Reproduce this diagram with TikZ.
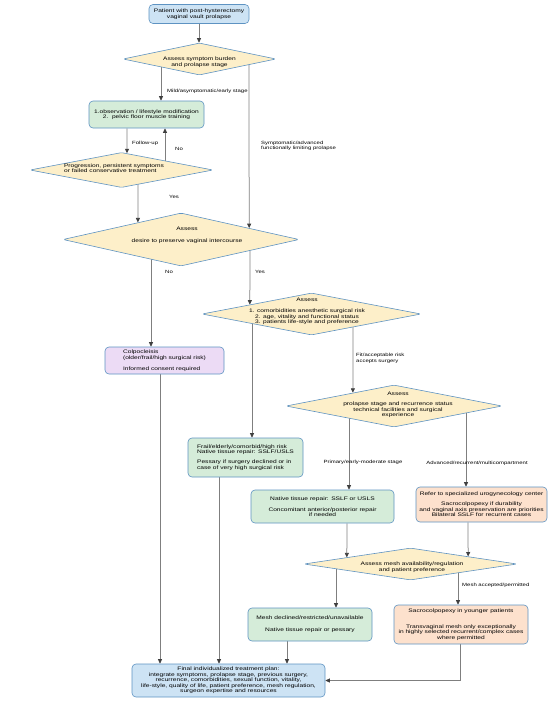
\documentclass[tikz,border=0pt]{standalone}
\usepackage{fontspec}
\setmainfont{Liberation Sans}[FakeStretch=1.3]
\usetikzlibrary{calc,arrows.meta,shapes.geometric,backgrounds}
\definecolor{cblue}{HTML}{CDE3F4}
\definecolor{cyel}{HTML}{FDEFC9}
\definecolor{cgreen}{HTML}{D5ECD9}
\definecolor{cpurp}{HTML}{ECDBF5}
\definecolor{cpeach}{HTML}{FDE1CD}
\definecolor{cedge}{HTML}{5E93C2}
\definecolor{cline}{HTML}{7F7F7F}
\definecolor{ctip}{HTML}{3F3F3F}
\newcommand\nodefont{\fontsize{5.1}{5.5}\selectfont}
\newcommand\lblfont{\fontsize{4.6}{5.4}\selectfont}
\begin{document}
\begin{tikzpicture}[x=1pt,y=-1pt,
  box/.style={draw=cedge, line width=0.6pt, rounded corners=4pt, inner sep=0pt, align=center, font=\nodefont},
  dia/.style={draw=cedge, fill=cyel, line width=0.6pt, diamond, inner sep=0pt, rounded corners=1.5pt},
  txt/.style={inner sep=0pt, align=center, font=\nodefont},
  lbl/.style={inner sep=0pt, align=left, font=\lblfont},
  arr/.style={draw=cline, line width=0.75pt, -{Triangle[width=4pt,length=4.5pt,color=ctip]}},
  ln/.style={draw=cline, line width=0.75pt}]
\useasboundingbox (0,0) rectangle (550,702);

% ---------- nodes ----------
\node[box, fill=cblue, minimum width=100pt, minimum height=19pt] (start) at (199,14)
  {Patient with post-hysterectomy\\vaginal vault prolapse};

\node[dia, minimum width=153pt, minimum height=32pt] (d1) at (199.5,59) {};
\node[txt] (d1t) at (199.5,62) {Assess symptom burden\\and prolapse stage};

\node[box, fill=cgreen, minimum width=115pt, minimum height=27pt] (g1) at (146.5,114.5)
  {1.observation / lifestyle modification\\2.\ \ pelvic floor muscle training};

\node[dia, minimum width=183pt, minimum height=35pt] (d2) at (121.5,170) {};
\node[txt, align=left] (d2t) at (114,168) {Progression, persistent symptoms\\or failed conservative treatment};

\node[dia, minimum width=236pt, minimum height=53pt] (d3) at (181,239.5) {};
\node[txt] (d3t) at (187,235) {Assess\\[6.5pt]desire to preserve vaginal intercourse};

\node[dia, minimum width=219pt, minimum height=42pt] (d4) at (311.5,314) {};
\node[txt] (d4t) at (307,311.5) {Assess\\[5.5pt]1. comorbidities anesthetic surgical risk\\2. age, vitality and functional status\\3. patients life-style and preference};

\node[box, fill=cpurp, minimum width=119pt, minimum height=27pt, align=left] (colp) at (164.5,360.5)
  {Colpocleisis\\(older/frail/high surgical risk)\\[5.5pt]Informed consent required};

\node[dia, minimum width=216pt, minimum height=42pt] (d5) at (394,406) {};
\node[txt] (d5t) at (398,405) {Assess\\[4.5pt]prolapse stage and recurrence status\\technical facilities and surgical\\experience};

\node[box, fill=cgreen, minimum width=115pt, minimum height=39pt, align=left] (frail) at (245.5,457.5)
  {Frail/elderly/comorbid/high risk\\Native tissue repair: SSLF/USLS\\[4.5pt]Pessary if surgery declined or in\\case of very high surgical risk};

\node[box, fill=cgreen, minimum width=143pt, minimum height=33pt] (native) at (322.5,506.5)
  {Native tissue repair: SSLF or USLS\\[5.5pt]Concomitant anterior/posterior repair\\if needed};

\node[box, fill=cpeach, minimum width=131pt, minimum height=35pt] (refer) at (481.5,504.5)
  {Refer to specialized urogynecology center\\[4.5pt]Sacrocolpopexy if durability\\and vaginal axis preservation are priorities\\Bilateral SSLF for recurrent cases};

\node[dia, minimum width=213pt, minimum height=32pt] (d6) at (410.5,564) {};
\node[txt] (d6t) at (412,567) {Assess mesh availability/regulation\\and patient preference};

\node[box, fill=cgreen, minimum width=124pt, minimum height=33pt] (meshd) at (310,624.5)
  {Mesh declined/restricted/unavailable\\[6.5pt]Native tissue repair or pessary};

\node[box, fill=cpeach, minimum width=134pt, minimum height=39pt] (sacro) at (461,624.5)
  {Sacrocolpopexy in younger patients\\[10pt]Transvaginal mesh only exceptionally\\in highly selected recurrent/complex cases\\where permitted};

\node[box, fill=cblue, minimum width=193pt, minimum height=33pt] (final) at (228.5,680.5)
  {Final individualized treatment plan:\\integrate symptoms, prolapse stage, previous surgery,\\recurrence, comorbidities, sexual function, vitality,\\life-style, quality of life, patient preference, mesh regulation,\\surgeon expertise and resources};

% ---------- labels ----------
\node[lbl, anchor=west] (l1) at (167,91.5) {Mild/asymptomatic/early stage};
\node[lbl, anchor=west] (l2) at (261,146) {Symptomatic/advanced\\functionally limiting prolapse};
\node[lbl, anchor=west] (l3) at (132,143) {Follow-up};
\node[lbl, anchor=west] (l4) at (175,148.5) {No};
\node[lbl, anchor=west] (l5) at (169,197) {Yes};
\node[lbl, anchor=west] (l6) at (165,272) {No};
\node[lbl, anchor=west] (l7) at (255,272) {Yes};
\node[lbl, anchor=west] (l8) at (356,358.5) {Fit/acceptable risk\\accepts surgery};
\node[lbl] (l9) at (363,462) {Primary/early-moderate stage};
\node[lbl] (l10) at (477,463) {Advanced/recurrent/multicompartment};
\node[lbl, anchor=west] (l11) at (462,585) {Mesh accepted/permitted};

% ---------- x positions ----------
\coordinate (X161) at (161,0);
\coordinate (X249) at (249,0);
\coordinate (X127) at (127,0);
\coordinate (X165) at (165,0);
\coordinate (X138) at (138,0);
\coordinate (X151) at (151,0);
\coordinate (X250) at (250,0);
\coordinate (X252) at (252,0);
\coordinate (X353) at (353,0);
\coordinate (X160) at (160,0);
\coordinate (X219) at (219,0);
\coordinate (X349) at (349,0);
\coordinate (X466) at (466,0);
\coordinate (X347) at (347,0);
\coordinate (X468) at (468,0);
\coordinate (X336) at (336,0);
\coordinate (X458) at (458,0);
\coordinate (X287) at (287,0);
\coordinate (X460) at (460,0);

% ---------- connectors ----------
\begin{scope}[on background layer]
\draw[arr] (start.south) -- (start.south |- d1.north);
\draw[arr] (X161 |- d1.center) -- (X161 |- g1.north);
\draw[arr] (X249 |- d1.center) -- ($(d3.north)!0.5763!(d3.east)$);
\draw[arr] (X127 |- g1.south) -- ($(d2.north)!0.0601!(d2.east)$);
\draw[arr] (X165 |- d2.center) -- (X165 |- g1.south);
\draw[arr] (X138 |- d2.center) -- ($(d3.north)!0.3644!(d3.west)$);
\draw[arr] (X151 |- d3.center) -- (X151 |- colp.north);
\draw[arr] (X250 |- d3.center) -- ($(d4.north)!0.5616!(d4.west)$);
\draw[arr] (X252 |- d4.center) -- (X252 |- frail.north);
\draw[arr] (X353 |- d4.center) -- ($(d5.north)!0.3796!(d5.west)$);
\draw[arr] (X160 |- colp.south) -- (X160 |- final.north);
\draw[arr] (X219 |- frail.south) -- (X219 |- final.north);
\draw[arr] (X349 |- d5.center) -- (X349 |- native.north);
\draw[arr] (X466 |- d5.center) -- (X466 |- refer.north);
\draw[arr] (X347 |- native.south) -- ($(d6.north)!0.5962!(d6.west)$);
\draw[arr] (X468 |- refer.south) -- ($(d6.north)!0.5399!(d6.east)$);
\draw[arr] (X336 |- d6.center) -- (X336 |- meshd.north);
\draw[arr] (X458 |- d6.center) -- (X458 |- sacro.north);
\draw[arr] (X287 |- meshd.south) -- (X287 |- final.north);
\draw[arr] (X460 |- sacro.south) -- (X460 |- final.east) -- (final.east);
\end{scope}
\end{tikzpicture}
\end{document}
